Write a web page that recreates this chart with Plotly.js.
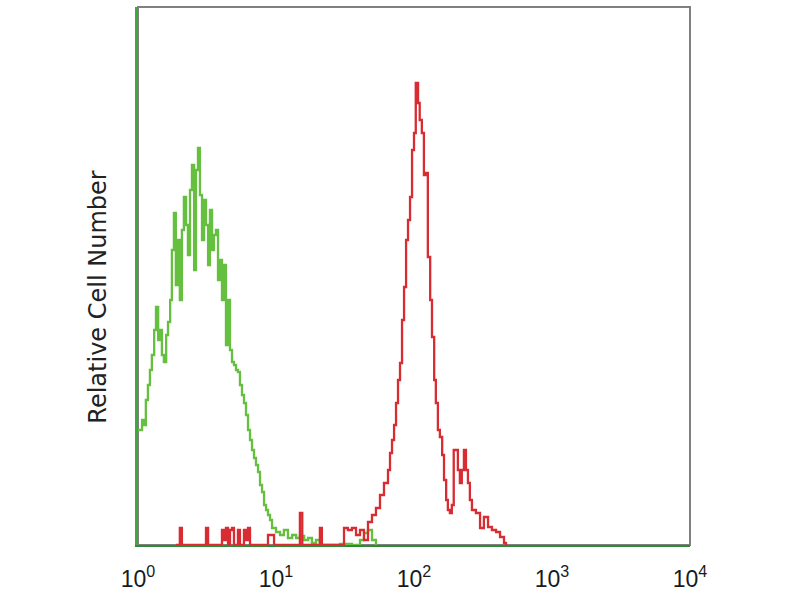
<!DOCTYPE html>
<html>
<head>
<meta charset="utf-8">
<script src="https://cdn.plot.ly/plotly-3.0.1.min.js"></script>
<style>html,body{margin:0;padding:0;background:#fff;}#chart{width:800px;height:600px;}</style>
</head>
<body>
<div id="chart"></div>
<script>
// Isotype control (green) – fluorescence intensity and relative cell counts
const greenX = [1.0,1.03,1.07,1.105,1.14,1.18,1.22,1.26,1.31,1.35,1.40,1.44,1.49,1.54,1.60,1.65,1.71,1.76,1.82,1.88,1.95,2.01,2.08,2.15,2.23,2.30,2.38,2.46,2.55,2.63,2.72,2.81,2.91,3.01,3.11,3.22,3.32,3.44,3.55,3.67,3.80,3.93,4.06,4.20,4.34,4.49,4.64,4.80,4.96,5.13,5.30,5.48,5.67,5.86,6.06,6.27,6.48,6.70,6.93,7.16,7.41,7.66,7.92,8.19,8.47,8.75,9.05,9.36,10.0,10.7,11.4,12.2,13.1,14.0,14.9,16.0,17.1,18.2,19.5,20.8,23.8,29.1,35.5,40.6,43.4,46.4,49.6,53.0];
const greenY = [23,23,25,24,29,32,35,38,43,47.6,41,43,38,36.6,42,44.6,49,59,66.4,52,61,49,63,69.6,64,58,71,76,55,75,79.4,70,61,69,64,56,67,59,62,63,53,57,49,56,40,49,39,36.6,36,35,34.6,32,30,28.4,26,23,21,19,17.4,16,14.6,12,10.6,8,7,6,5,3.4,2.6,2,3,1.4,2,1.4,1.8,1,1.4,0.4,1,0,0,0.2,0,1,2.4,3,1,0];
// Stained sample (red)
const redX = [1.88,1.95,2.01,2.08,2.97,3.11,3.22,3.32,3.93,4.06,4.20,4.34,4.49,4.64,4.80,4.96,5.30,5.48,5.86,6.06,6.27,6.48,8.47,8.75,9.36,9.68,14.5,14.9,15.5,20.3,20.8,21.5,30.1,31.1,33.2,35.5,38.0,40.6,43.4,46.4,49.6,53.0,56.7,60.6,64.8,67.0,69.3,71.7,74.1,76.6,79.2,81.9,84.7,87.6,90.5,93.6,96.8,100,103,107,110,114,118,122,126,131,135,140,144,149,154,160,165,171,176,182,188,194,201,208,215,222,230,238,246,254,263,281,301,321,344,367,393,420,449,464];
const redY = [0,0,3.4,0,0,3.4,0,0,0,3,1,3.4,0,3,3.4,0,3,0,3,1,3.4,0,0,2,2,0,0,6.4,0,0,3.4,0,0,3.4,3,3.4,2,3,1,4.6,6,7.4,10,12.4,15,18.4,21,24,28.4,33,36.4,45,51.6,61,65,69.6,79,82.4,92.4,88.4,85,82.4,74,74.4,57.6,49,41.6,33,28.4,23,21.6,18,13,9,7,6.4,8,19,19,15,12.4,15,19,15,12.4,9,7,6.4,3.4,5.6,3.6,3,2.6,1.6,0.4,0];
const xTickVals = [1,10,100,1000,10000];
const xTickText = ['10<sup>0</sup>','10<sup>1</sup>','10<sup>2</sup>','10<sup>3</sup>','10<sup>4</sup>'];
const yTitle = 'Relative Cell Number';

const traces = [
  {x: greenX, y: greenY, type: 'scatter', mode: 'lines', line: {color: '#66c040', width: 2.3, shape: 'hv'}, hoverinfo: 'x+y', name: 'Isotype'},
  {x: redX, y: redY, type: 'scatter', mode: 'lines', line: {color: '#d92b32', width: 2.3, shape: 'hv'}, hoverinfo: 'x+y', name: 'Antibody'}
];

const layout = {
  width: 800, height: 600,
  margin: {l: 138, r: 110, t: 7, b: 55},
  paper_bgcolor: '#ffffff', plot_bgcolor: '#ffffff',
  showlegend: false,
  xaxis: {
    type: 'log', range: [0, 4], tickvals: xTickVals, ticktext: xTickText,
    showgrid: false, zeroline: false, ticks: '',
    showline: true, linecolor: '#2f8a36', linewidth: 2,
    tickfont: {family: 'Liberation Sans, Arial, sans-serif', size: 23, color: '#1a1a1a'},
    ticklabelstandoff: 12
  },
  yaxis: {
    range: [0, 107.6], showgrid: false, zeroline: false, showticklabels: false, ticks: '',
    showline: true, linecolor: '#3ea83e', linewidth: 3
  },
  shapes: [{type: 'rect', xref: 'paper', yref: 'paper', x0: 0, x1: 1, y0: 0, y1: 1, line: {color: '#808080', width: 2}, layer: 'below'}],
  annotations: [{
    text: yTitle, xref: 'paper', yref: 'paper', x: -0.074, y: 0.46,
    xanchor: 'center', yanchor: 'middle', textangle: -90, showarrow: false,
    font: {family: 'DejaVu Sans, sans-serif', size: 24, color: '#222'}
  }]
};

Plotly.newPlot('chart', traces, layout, {displayModeBar: false, staticPlot: true});
</script>
</body>
</html>
